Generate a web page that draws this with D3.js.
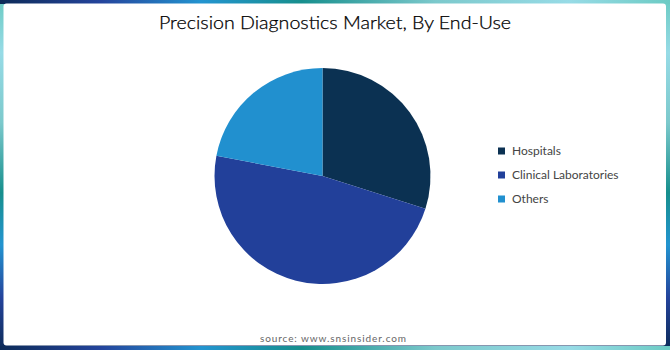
<!DOCTYPE html>
<html>
<head>
<meta charset="utf-8">
<script src="https://cdn.jsdelivr.net/npm/d3@7"></script>
<style>
  body { margin: 0; padding: 0; background: #fff; }
</style>
</head>
<body>
<div id="chart"></div>
<script>
// data
var categories = ["Hospitals", "Clinical Laboratories", "Others"];
var shares = [29.9, 48.1, 22.0];
var colors = ["#0b3152", "#22409a", "#2190cf"];

var W = 670, H = 350;

var svg = d3.select("#chart").append("svg")
    .attr("width", W)
    .attr("height", H);

var defs = svg.append("defs");

// frame gradient: navy -> blue -> teal -> light cyan
var stops = [
  [0, "#0d2b58"], [0.15, "#24449c"], [0.3, "#2394d0"],
  [0.45, "#178f8d"], [0.65, "#7cc9cc"], [0.85, "#97dbe6"], [1, "#6ccbc4"]
];
function grad(id, x1, y1, x2, y2) {
  var g = defs.append("linearGradient").attr("id", id)
      .attr("x1", x1).attr("y1", y1).attr("x2", x2).attr("y2", y2);
  stops.forEach(function(s) {
    g.append("stop").attr("offset", s[0]).attr("stop-color", s[1]);
  });
}
grad("gh", 0, 0, 1, 0);  // left to right
grad("gv", 0, 1, 0, 0);  // bottom to top

svg.append("rect").attr("x", 0).attr("y", 0).attr("width", W).attr("height", H).attr("fill", "url(#gv)");
svg.append("rect").attr("x", 0).attr("y", 0).attr("width", W).attr("height", 4).attr("fill", "url(#gh)");
svg.append("rect").attr("x", 0).attr("y", H - 4).attr("width", W).attr("height", 4).attr("fill", "url(#gh)");

// white card
svg.append("rect")
    .attr("x", 3.5).attr("y", 3.5)
    .attr("width", W - 7.5).attr("height", H - 8)
    .attr("rx", 3)
    .attr("fill", "#fff");

// title
svg.append("text")
    .attr("x", 335)
    .attr("y", 29)
    .attr("text-anchor", "middle")
    .attr("textLength", 352)
    .attr("lengthAdjust", "spacingAndGlyphs")
    .style("font-family", "Lato, sans-serif")
    .style("font-weight", "300")
    .style("font-size", "17px")
    .style("fill", "#000")
    .style("stroke", "#000")
    .style("stroke-width", "0.25px")
    .text("Precision Diagnostics Market, By End-Use");

// pie
var radius = 108;
var g = svg.append("g")
    .attr("transform", "translate(322.5,176)");

var pie = d3.pie().sort(null).value(function(d) { return d; });
var arc = d3.arc().innerRadius(0).outerRadius(radius);

g.selectAll("path")
    .data(pie(shares))
    .enter().append("path")
    .attr("d", arc)
    .attr("fill", function(d, i) { return colors[i]; });

// legend
var legend = svg.append("g")
    .attr("transform", "translate(498,151)");

var item = legend.selectAll("g")
    .data(categories)
    .enter().append("g")
    .attr("transform", function(d, i) { return "translate(0," + (i * 24) + ")"; });

item.append("rect")
    .attr("x", 0).attr("y", -3.5)
    .attr("width", 7).attr("height", 7)
    .attr("fill", function(d, i) { return colors[i]; });

item.append("text")
    .attr("x", 14)
    .attr("y", 4)
    .style("font-family", "Lato, sans-serif")
    .style("font-size", "12px")
    .style("fill", "#444")
    .text(function(d) { return d; });

// source
svg.append("text")
    .attr("x", 333)
    .attr("y", 342)
    .attr("text-anchor", "middle")
    .attr("textLength", 146)
    .attr("lengthAdjust", "spacing")
    .style("font-family", "Lato, sans-serif")
    .style("font-size", "10px")
    .style("fill", "#666")
    .text("source: www.snsinsider.com");
</script>
</body>
</html>
